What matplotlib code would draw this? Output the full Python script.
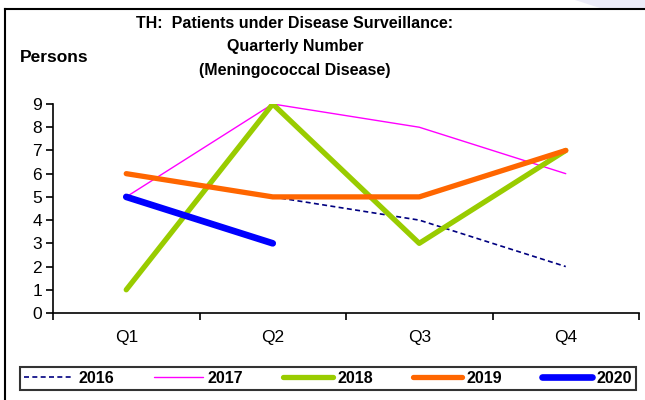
import numpy as np
import matplotlib
matplotlib.use("Agg")
import matplotlib.pyplot as plt
from matplotlib.lines import Line2D
from matplotlib.patches import Polygon

plt.rcParams['font.family'] = ['Liberation Sans', 'DejaVu Sans']

quarters = ["Q1", "Q2", "Q3", "Q4"]
s2016 = [np.nan, 5, 4, 2]
s2017 = [5, 9, 8, 6]
s2018 = [1, 9, 3, 7]
s2019 = [6, 5, 5, 7]
s2020 = [5, 3, np.nan, np.nan]
years = ["2016", "2017", "2018", "2019", "2020"]

W, H = 645, 400
fig = plt.figure(figsize=(W/100, H/100), dpi=100)

# faint corner shape and frame
fig.patches.append(Polygon([[575/W, 1], [1, 1], [1, 1-8/H], [600/W, 1-8/H]], closed=True,
                           transform=fig.transFigure, facecolor='#ECECF8', edgecolor='none'))
fig.add_artist(Line2D([4.5/W, 4.5/W], [0, 1-9/H], transform=fig.transFigure, color='black', lw=1.5))
fig.add_artist(Line2D([4.5/W, 1], [1-9/H, 1-9/H], transform=fig.transFigure, color='black', lw=1.5))

ax = fig.add_axes([53/W, 1-313/H, (639-53)/W, (313-104)/H])
x = np.arange(len(quarters))

styles = [
    dict(color='#000080', lw=1.2, ls=(0, (3, 2))),
    dict(color='#FF00FF', lw=1.0, ls='-'),
    dict(color='#99CC00', lw=3.8, ls='-'),
    dict(color='#FF6600', lw=3.8, ls='-'),
    dict(color='#0000FF', lw=4.8, ls='-'),
]
series = [s2016, s2017, s2018, s2019, s2020]
for y, lab, st in zip(series, years, styles):
    ax.plot(x, y, label=lab, solid_capstyle='round', solid_joinstyle='round', **st)

ax.set_xlim(-0.5, 3.5)
ax.set_ylim(0, 9)
ax.set_yticks(range(0, 10))
ax.set_xticks(x)
ax.set_xticklabels(quarters)
ax.set_xticks(np.arange(-0.5, 4.0, 1.0), minor=True)
ax.tick_params(axis='x', which='major', length=0, pad=12, labelsize=12.5)
ax.tick_params(axis='x', which='minor', length=5, width=1.2, direction='out')
ax.tick_params(axis='y', length=5, width=1.2, direction='out', labelsize=12.5, pad=3)
for s in ['top', 'right']:
    ax.spines[s].set_visible(False)
for s in ['left', 'bottom']:
    ax.spines[s].set_linewidth(1.2)

tkw = dict(ha='center', va='center', fontsize=11.5, fontweight='bold')
fig.text(295/W, 1-24/H, "TH:  Patients under Disease Surveillance:", **tkw)
fig.text(295/W, 1-46/H, "Quarterly Number", **tkw)
fig.text(295/W, 1-70/H, "(Meningococcal Disease)", **tkw)
fig.text(20/W, 1-58/H, "Persons", ha='left', va='center', fontsize=12.5, fontweight='bold')

leg = fig.legend(loc='lower left', bbox_to_anchor=(20/W, 1-390/H, (636-20)/W, 26/H),
                 mode='expand', ncol=5, frameon=True, fancybox=False, edgecolor='black',
                 prop=dict(size=11.5, weight='bold'), handlelength=3.1, handletextpad=0.3,
                 borderaxespad=0, borderpad=0.25, columnspacing=0.6)
leg.get_frame().set_linewidth(1.5)

fig.savefig("out.png", dpi=100)
